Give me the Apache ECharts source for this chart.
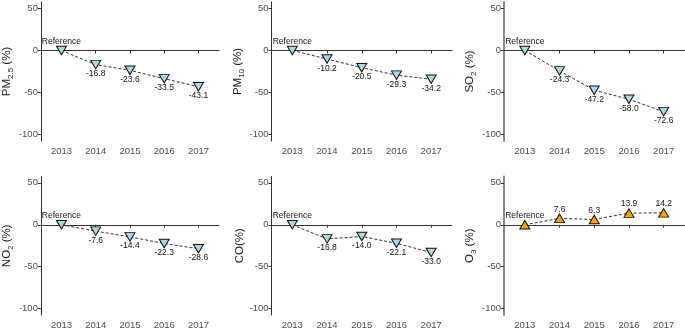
<!DOCTYPE html>
<html>
<head>
<meta charset="utf-8">
<script src="https://cdn.jsdelivr.net/npm/echarts@6/dist/echarts.min.js"></script>
<style>
  html, body { margin: 0; padding: 0; background: #fff; }
  #chart { width: 685px; height: 330px; }
</style>
</head>
<body>
<div id="chart"></div>
<script>
// 年份与各污染物相对2013年的变化率 (%)
const years = [2013, 2014, 2015, 2016, 2017]
const yTicks = [50, 0, -50, -100]
const pm25 = [0, -16.8, -23.6, -33.5, -43.1]
const pm10 = [0, -10.2, -20.5, -29.3, -34.2]
const so2 = [0, -24.3, -47.2, -58.0, -72.6]
const no2 = [0, -7.6, -14.4, -22.3, -28.6]
const co = [0, -16.8, -14.0, -22.1, -33.0]
const o3 = [0, 7.6, 6.3, 13.9, 14.2]

const FONT = '"Liberation Sans", Arial, sans-serif'

const panels = [
  { title: '{n|PM}{s|2.5}{n| (%)}', data: pm25, up: false },
  { title: '{n|PM}{s|10}{n| (%)}', data: pm10, up: false },
  { title: '{n|SO}{s|2}{n| (%)}', data: so2, up: false },
  { title: '{n|NO}{s|2}{n| (%)}', data: no2, up: false },
  { title: '{n|CO(%)}', data: co, up: false },
  { title: '{n|O}{s|3}{n| (%)}', data: o3, up: true }
]

const lefts = [38.5, 271.5, 504]
const tops = [2, 176.5]
const W = 180.5
const H = 139

const grid = []
const xAxis = []
const yAxis = []
const series = []

panels.forEach((p, i) => {
  const col = i % 3
  const row = Math.floor(i / 3)
  grid.push({ left: lefts[col], top: tops[row], width: W, height: H })
  xAxis.push({
    gridIndex: i,
    type: 'value',
    min: 2012.4,
    max: 2017.6,
    splitLine: { show: false },
    axisLine: { lineStyle: { color: '#333', width: 1 } },
    axisTick: { show: true, length: 3, lineStyle: { color: '#333' }, customValues: years },
    axisLabel: {
      customValues: years,
      formatter: (v) => String(v),
      color: '#4d4d4d',
      fontSize: 9.5,
      margin: 5,
      fontFamily: FONT
    }
  })
  yAxis.push({
    gridIndex: i,
    type: 'value',
    min: -107.5,
    max: 57.5,
    name: p.title,
    nameLocation: 'middle',
    nameGap: 22,
    nameTextStyle: {
      fontFamily: FONT,
      fontSize: 11.5,
      color: '#1a1a1a',
      rich: {
        n: { fontSize: 11.5, lineHeight: 16, color: '#1a1a1a', fontFamily: FONT },
        s: { fontSize: 8, lineHeight: 8, verticalAlign: 'bottom', color: '#1a1a1a', fontFamily: FONT }
      }
    },
    splitLine: { show: false },
    axisLine: { show: true, onZero: false, lineStyle: { color: col === 2 ? '#888' : '#333', width: col === 2 ? 2 : 1 } },
    axisTick: { show: true, length: 3, lineStyle: { color: '#333' }, customValues: yTicks },
    axisLabel: {
      customValues: yTicks,
      color: '#4d4d4d',
      fontSize: 9.5,
      margin: 3,
      fontFamily: FONT
    }
  })
  series.push({
    type: 'line',
    xAxisIndex: i,
    yAxisIndex: i,
    // 每个点的标签位置：第一个点及正值在上方，负值在下方
    data: years.map((y, k) => ({
      value: [y, p.data[k]],
      label: { position: (k === 0 || p.data[k] > 0) ? 'top' : 'bottom' }
    })),
    symbol: 'triangle',
    symbolSize: [10, 8.5],
    symbolRotate: p.up ? 0 : 180,
    itemStyle: {
      color: p.up ? '#FFA500' : '#ADD8E6',
      borderColor: '#111',
      borderWidth: 1
    },
    lineStyle: { color: '#333', width: 1, type: [3, 2] },
    label: {
      show: true,
      fontSize: 8.5,
      color: '#111',
      fontFamily: FONT,
      distance: 0,
      formatter: (d) => d.dataIndex === 0 ? 'Reference' : d.value[1].toFixed(1)
    },
    animation: false
  })
})

const chart = echarts.init(document.getElementById('chart'))
chart.setOption({
  backgroundColor: '#fff',
  animation: false,
  grid,
  xAxis,
  yAxis,
  series
})
</script>
</body>
</html>
